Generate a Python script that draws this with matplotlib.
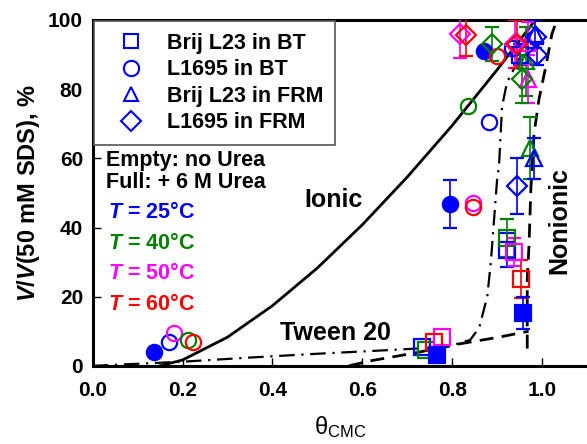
import matplotlib
matplotlib.use("Agg")
import matplotlib.pyplot as plt
from matplotlib.lines import Line2D

plt.rcParams['font.family'] = ['Liberation Sans', 'DejaVu Sans']
plt.rcParams['mathtext.fontset'] = 'custom'
plt.rcParams['mathtext.rm'] = 'Liberation Sans'
plt.rcParams['mathtext.it'] = 'Liberation Sans:bold:italic'
plt.rcParams['mathtext.bf'] = 'Liberation Sans:bold'

# ---- model curves ----
ionic_x = [0.15, 0.2, 0.3, 0.4, 0.5, 0.6, 0.7, 0.8, 0.9, 0.985]
ionic_y = [0, 1.7, 8.3, 17.4, 28.3, 40.8, 54.6, 69.5, 85.6, 100]

nonionic_x = [0.967, 0.967, 0.967, 0.971, 0.973, 0.975, 0.982, 0.993, 1.009, 1.022, 1.033]
nonionic_y = [5, 10, 25, 35, 43, 51, 67, 77, 87, 96, 100]

tail_x = [0.57, 0.62, 0.72, 0.8, 0.9, 0.97]
tail_y = [0, 1.5, 3.8, 6, 8.2, 10]

tween_x = [0, 0.2, 0.35, 0.5, 0.65, 0.79, 0.84, 0.86, 0.878, 0.886, 0.893, 0.90, 0.904, 0.911, 0.922, 0.942, 0.96, 0.975]
tween_y = [0, 1.2, 2.4, 3.5, 4.5, 5.5, 7.5, 11, 20, 30, 42, 54, 57.5, 75, 82, 87, 93, 100]

# ---- data: colour code b=25C, g=40C, m=50C, r=60C ; filled = + urea ----
brij_bt_x = [0.733, 0.741, 0.777, 0.760, 0.766, 0.922, 0.922, 0.938, 0.953, 0.958, 0.950]
brij_bt_y = [5.5, 4.6, 8.4, 7.0, 3.2, 33.5, 37.0, 33.0, 25.0, 15.3, 90.0]
brij_bt_e = [0, 0, 0, 0, 0, 5, 5.5, 4, 5.5, 4.5, 3]
brij_bt_c = ['b', 'g', 'm', 'r', 'b', 'b', 'g', 'm', 'r', 'b', 'b']
brij_bt_f = [0, 0, 0, 0, 1, 0, 0, 0, 0, 1, 0]

l1695_bt_x = [0.136, 0.169, 0.180, 0.212, 0.223, 0.795, 0.846, 0.846, 0.835, 0.882, 0.871, 0.900, 0.933]
l1695_bt_y = [4.0, 6.9, 9.5, 7.5, 7.0, 46.8, 47.0, 46.0, 75.0, 70.5, 91.0, 89.6, 92.0]
l1695_bt_e = [0, 0, 0, 0, 0, 7, 0, 0, 0, 0, 0, 0, 0]
l1695_bt_c = ['b', 'b', 'm', 'g', 'r', 'b', 'm', 'r', 'g', 'b', 'b', 'r', 'b']
l1695_bt_f = [1, 0, 0, 0, 0, 1, 0, 0, 0, 0, 1, 0, 0]

brij_frm_x = [0.965, 0.969, 0.969, 0.973, 0.982, 0.985]
brij_frm_y = [88.0, 93.4, 83.0, 63.0, 60.0, 96.0]
brij_frm_e = [10, 6, 7, 9, 6, 4]
brij_frm_c = ['g', 'm', 'm', 'g', 'b', 'b']
brij_frm_f = [0, 0, 0, 0, 0, 0]

l1695_frm_x = [0.817, 0.830, 0.889, 0.940, 0.944, 0.987, 0.989, 0.955, 0.944]
l1695_frm_y = [96.0, 95.7, 93.0, 93.0, 93.0, 95.0, 90.0, 83.0, 52.0]
l1695_frm_e = [7, 6, 5, 7, 7, 0, 3, 7, 8]
l1695_frm_c = ['m', 'r', 'g', 'm', 'r', 'b', 'b', 'g', 'b']
l1695_frm_f = [0, 0, 0, 0, 0, 0, 0, 0, 0]

colors = {'b': '#0000ff', 'g': '#008000', 'm': '#ff00ff', 'r': '#ff0000'}

fig = plt.figure(figsize=(5.87, 4.44), dpi=100)
ax = fig.add_axes([0.158, 0.176, 0.842, 0.779])

ax.plot(ionic_x, ionic_y, color='k', lw=2, zorder=2)
ax.plot(nonionic_x, nonionic_y, color='k', lw=2, ls=(0, (5, 3)), zorder=2)
ax.plot(tail_x, tail_y, color='k', lw=2, ls=(0, (5, 3)), zorder=2)
ax.plot(tween_x, tween_y, color='k', lw=1.6, ls=(0, (7, 3, 1, 3)), zorder=2)


def draw(xs, ys, es, cs, fs, marker, ms):
    for x, y, e, c, f in zip(xs, ys, es, cs, fs):
        col = colors[c]
        ax.errorbar(x, y, yerr=e if e else None, fmt=marker, ms=ms,
                    mec=col, mfc=col if f else 'none', mew=1.6,
                    ecolor=col, elinewidth=1.2, capsize=5, capthick=1.2,
                    zorder=3)


draw(brij_bt_x, brij_bt_y, brij_bt_e, brij_bt_c, brij_bt_f, 's', 11)
draw(l1695_bt_x, l1695_bt_y, l1695_bt_e, l1695_bt_c, l1695_bt_f, 'o', 11)
draw(brij_frm_x, brij_frm_y, brij_frm_e, brij_frm_c, brij_frm_f, '^', 12)
draw(l1695_frm_x, l1695_frm_y, l1695_frm_e, l1695_frm_c, l1695_frm_f, 'D', 10)

ax.set_xlim(0, 1.1)
ax.set_ylim(0, 100)
ax.set_xticks([0, 0.2, 0.4, 0.6, 0.8, 1.0])
ax.set_xticklabels(['0.0', '0.2', '0.4', '0.6', '0.8', '1.0'])
ax.set_yticks([0, 20, 40, 60, 80, 100])
ax.tick_params(direction='in', length=6, width=1, labelsize=15)
ax.tick_params(axis='x', pad=11)
ax.tick_params(axis='y', pad=7)
for lab in ax.get_xticklabels() + ax.get_yticklabels():
    lab.set_fontweight('bold')
for s in ['left', 'bottom', 'top']:
    ax.spines[s].set_linewidth(2.2)
ax.spines['right'].set_visible(False)

ax.set_xlabel(r'θ$_{\mathrm{CMC}}$', fontsize=17, labelpad=10)
ax.set_ylabel(r'$V$/$V$(50 mM SDS), %', fontsize=17, fontweight='bold', labelpad=4)

handles = [Line2D([], [], ls='none', marker=m, ms=s, mec='#0000ff', mfc='none', mew=1.5)
           for m, s in [('s', 10), ('o', 11), ('^', 10), ('D', 10)]]
leg = ax.legend(handles, ['Brij L23 in BT', 'L1695 in BT', 'Brij L23 in FRM', 'L1695 in FRM'],
                loc='upper left', borderaxespad=0.05, fancybox=False, framealpha=1,
                edgecolor='#555555', prop={'weight': 'bold', 'size': 15.5},
                handlelength=2.4, handletextpad=0.45, labelspacing=0.25, borderpad=0.55)
leg.get_frame().set_linewidth(1.2)

ax.text(0.03, 59.5, 'Empty: no Urea', fontsize=15.5, fontweight='bold', va='center')
ax.text(0.03, 52.9, 'Full: + 6 M Urea', fontsize=15.5, fontweight='bold', va='center')
temps = [('25', 'b'), ('40', 'g'), ('50', 'm'), ('60', 'r')]
for i, (t, c) in enumerate(temps):
    ax.text(0.035, 44.2 - i * 8.8, r'$T$ = ' + t + '°C', fontsize=15.5, fontweight='bold',
            color=colors[c], va='center')

ax.text(0.536, 48, 'Ionic', fontsize=18, fontweight='bold', ha='center', va='center')
ax.text(0.541, 9.5, 'Tween 20', fontsize=18, fontweight='bold', ha='center', va='center')
ax.text(1.038, 42, 'Nonionic', fontsize=18, fontweight='bold', ha='center', va='center',
        rotation=90)

fig.savefig('out.png', dpi=100)
